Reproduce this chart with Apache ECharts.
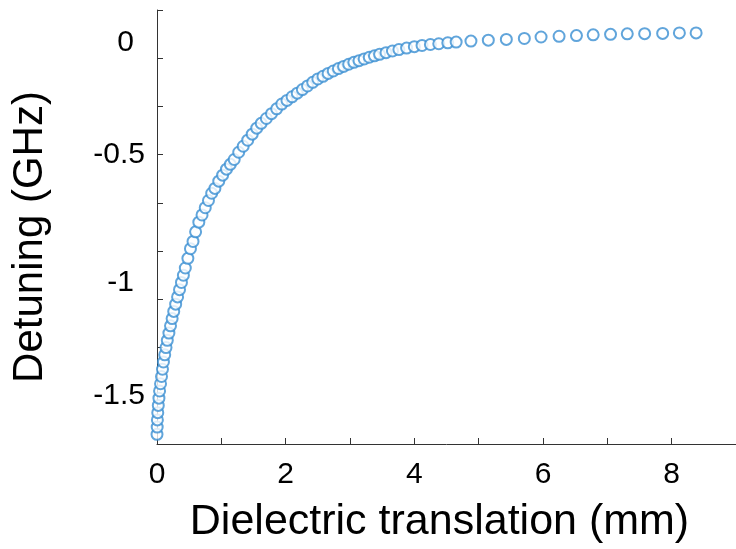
<!DOCTYPE html>
<html>
<head>
<meta charset="utf-8">
<script src="https://cdn.jsdelivr.net/npm/echarts@6/dist/echarts.min.js"></script>
<style>
html,body{margin:0;padding:0;background:#fff;}
#c{width:736px;height:549px;}
</style>
</head>
<body>
<div id="c"></div>
<script>
// Dielectric translation (mm)
var xValues = [
  0, 0.003, 0.006, 0.012, 0.02, 0.03, 0.04, 0.055, 0.07, 0.085,
  0.10, 0.12, 0.14, 0.16, 0.185, 0.21, 0.235, 0.26, 0.29, 0.32,
  0.35, 0.38, 0.41, 0.44, 0.48, 0.52, 0.56, 0.60, 0.65, 0.70,
  0.75, 0.80, 0.85, 0.90, 0.96, 1.02, 1.08, 1.14, 1.20, 1.27,
  1.34, 1.41, 1.48, 1.55, 1.62, 1.70, 1.78, 1.86, 1.94, 2.02,
  2.10, 2.18, 2.26, 2.34, 2.42, 2.50, 2.58, 2.66, 2.74, 2.82,
  2.90, 2.98, 3.06, 3.14, 3.22, 3.30, 3.38, 3.46, 3.56, 3.66,
  3.76, 3.88, 4.00, 4.12, 4.25, 4.38, 4.52, 4.65, 4.88, 5.15,
  5.43, 5.71, 5.97, 6.25, 6.52, 6.78, 7.05, 7.31, 7.58, 7.86,
  8.12, 8.38
];
// Detuning (GHz)
var yValues = [
  -1.66, -1.63, -1.60, -1.57, -1.54, -1.51, -1.48, -1.45, -1.42, -1.39,
  -1.36, -1.33, -1.30, -1.27, -1.24, -1.21, -1.18, -1.15, -1.12, -1.09,
  -1.06, -1.03, -1.00, -0.97, -0.93, -0.89, -0.86, -0.82, -0.78, -0.75,
  -0.72, -0.69, -0.66, -0.64, -0.61, -0.585, -0.56, -0.54, -0.52, -0.49,
  -0.465, -0.44, -0.415, -0.39, -0.37, -0.35, -0.33, -0.31, -0.29, -0.275,
  -0.26, -0.245, -0.23, -0.215, -0.20, -0.186, -0.175, -0.163, -0.153, -0.143,
  -0.134, -0.125, -0.117, -0.110, -0.103, -0.096, -0.090, -0.084, -0.077, -0.070,
  -0.064, -0.058, -0.052, -0.047, -0.043, -0.040, -0.036, -0.033, -0.029, -0.025,
  -0.022, -0.018, -0.012, -0.009, -0.006, -0.003, -0.001, 0.001, 0.002, 0.003,
  0.005, 0.005
];
var xLabelValues = [0, 2, 4, 6, 8];
var yLabelValues = [-1.5, -1, -0.5, 0];

var points = xValues.map(function (x, i) { return [x, yValues[i]]; });

var font = '"Liberation Sans", Arial, sans-serif';
var labelStyle = {fontFamily: font, fontSize: 30, color: '#000'};
function rich(pad) { return Object.assign({padding: pad}, labelStyle); }

var chart = echarts.init(document.getElementById('c'), null, {renderer: 'canvas'});
chart.setOption({
  animation: false,
  backgroundColor: '#ffffff',
  grid: {left: 157, right: -6, top: 10, bottom: 98, containLabel: false},
  xAxis: {
    type: 'value', min: 0, max: 9, interval: 1,
    name: 'Dielectric translation (mm)',
    nameLocation: 'middle', nameGap: 57,
    nameTextStyle: {fontFamily: font, fontSize: 43, color: '#000', padding: [0, 14, 0, 0]},
    axisLine: {show: true, onZero: false, lineStyle: {color: '#333', width: 1}},
    axisTick: {show: true, inside: true, length: 6, lineStyle: {color: '#333'}},
    axisLabel: {customValues: xLabelValues, fontFamily: font, fontSize: 30, color: '#000', margin: 16},
    splitLine: {show: false}
  },
  yAxis: {
    type: 'value', min: -1.7, max: 0.1, interval: 0.2,
    name: 'Detuning (GHz)',
    nameLocation: 'middle', nameGap: 106, nameRotate: 90,
    nameTextStyle: {fontFamily: font, fontSize: 42, color: '#000', padding: [0, 20, 0, 0]},
    axisLine: {show: true, onZero: false, lineStyle: {color: '#333', width: 1}},
    axisTick: {show: true, inside: true, length: 6, lineStyle: {color: '#333'}},
    axisLabel: {
      customValues: yLabelValues, margin: 12,
      fontFamily: font, fontSize: 30, color: '#000',
      formatter: function (v) {
        var s = String(Math.round(v * 10) / 10);
        var key = {'0': 'a', '-0.5': 'b', '-1': 'c', '-1.5': 'd'}[s] || 'b';
        return '{' + key + '|' + s + '}';
      },
      rich: {
        a: rich([18, 11, 0, 0]),
        b: rich([0, 0, 0, 0]),
        c: rich([16, 11, 0, 0]),
        d: rich([0, 0, 0, 0])
      }
    },
    splitLine: {show: false}
  },
  series: [{
    type: 'scatter',
    data: points,
    symbol: 'emptyCircle',
    symbolSize: 11,
    itemStyle: {color: '#3a8ed2', borderColor: '#3a8ed2', borderWidth: 1.5},
    clip: false
  }]
});
</script>
</body>
</html>
